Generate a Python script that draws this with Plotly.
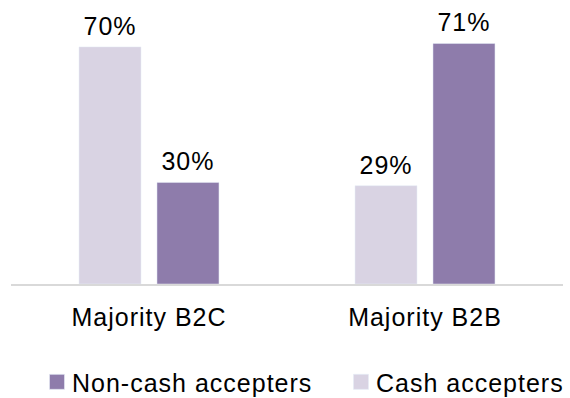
import plotly.graph_objects as go

# Share of merchants by acceptance type, per business segment
categories = ["Majority B2C", "Majority B2B"]
cash_accepters = [70, 29]
noncash_accepters = [30, 71]

CASH_COLOR = "#d9d3e3"
NONCASH_COLOR = "#8e7cab"
FONT = "Liberation Sans, Arial, sans-serif"
TEXT_SIZE = 25

fig = go.Figure()
fig.add_trace(go.Bar(
    name="Cash accepters",
    x=categories,
    y=cash_accepters,
    marker_color=CASH_COLOR,
    text=[f"{v}%" for v in cash_accepters],
    textposition="outside",
    cliponaxis=False,
    legend="legend2",
))
fig.add_trace(go.Bar(
    name="Non-cash accepters",
    x=categories,
    y=noncash_accepters,
    marker_color=NONCASH_COLOR,
    text=[f"{v}%" for v in noncash_accepters],
    textposition="outside",
    cliponaxis=False,
    legend="legend",
))

fig.update_traces(textfont=dict(family=FONT, size=TEXT_SIZE, color="#000000"))

legend_style = dict(
    orientation="h",
    xref="container",
    yref="container",
    xanchor="left",
    yanchor="middle",
    font=dict(family=FONT, size=TEXT_SIZE, color="#000000"),
    bgcolor="rgba(0,0,0,0)",
)

fig.update_layout(
    width=570,
    height=398,
    margin=dict(l=11, r=7, t=12.5, b=113.5, autoexpand=False),
    paper_bgcolor="white",
    plot_bgcolor="white",
    barmode="group",
    bargap=0.435,
    bargroupgap=0.205,
    font=dict(family=FONT, size=TEXT_SIZE, color="#000000"),
    showlegend=True,
    legend=dict(legend_style, x=32 / 570, y=0.040),
    legend2=dict(legend_style, x=336 / 570, y=0.040),
    xaxis=dict(
        showline=True,
        linecolor="#d9d9d9",
        linewidth=1.5,
        ticks="outside",
        ticklen=10,
        tickcolor="rgba(0,0,0,0)",
        tickfont=dict(family=FONT, size=TEXT_SIZE, color="#000000"),
        showgrid=False,
        zeroline=False,
    ),
    yaxis=dict(
        range=[0, 80],
        visible=False,
        showgrid=False,
        zeroline=False,
    ),
)

# Slightly wider tracking on all chart text; legend boxes are unclipped so
# the wider entries stay fully visible, legend swatches are enlarged and
# value labels get a little more room above their bars
tracking_js = """
var gd = document.getElementById('{plot_id}');
gd.querySelectorAll('text').forEach(function (t) { t.style.letterSpacing = '1px'; });
gd.querySelectorAll('[class^="legend"][clip-path], [class^="legend"] [clip-path]').forEach(function (e) {
    e.removeAttribute('clip-path');
});
gd.querySelectorAll('.legendpoints path').forEach(function (p) {
    var tr = p.getAttribute('transform') || '';
    p.setAttribute('transform', tr + ' translate(5,0) scale(1.25)');
});
gd.querySelectorAll('text.bartext').forEach(function (t) {
    var tr = t.getAttribute('transform') || '';
    t.setAttribute('transform', 'translate(0,-4) ' + tr);
});
"""

fig.write_html("out.html", post_script=tracking_js)
